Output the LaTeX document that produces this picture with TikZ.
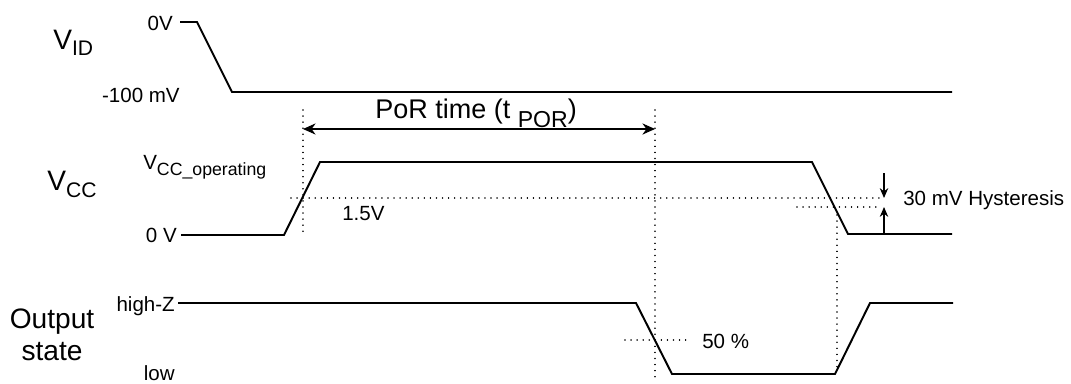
\documentclass[tikz,border=0pt]{standalone}
\usepackage{fontspec}
\setmainfont{Liberation Sans}
\usepackage{tikz}
\usetikzlibrary{arrows.meta}
\tikzstyle{signal} = [line width=1.4pt, line join=miter]
\tikzstyle{guide} = [line width=1.1pt, line cap=round, dash pattern=on 0.01pt off 4.3pt]
\tikzstyle{measure} = [line width=0.8pt, {Stealth[length=9pt,width=8pt]}-{Stealth[length=9pt,width=8pt]}]
\tikzstyle{hyst} = [line width=0.8pt, -{Stealth[length=7pt,width=6pt]}]
\tikzstyle{lbl} = [inner sep=0pt, font=\fontsize{14.6}{17}\selectfont]
\tikzstyle{biglbl} = [inner sep=0pt, font=\fontsize{20}{23}\selectfont]
\newcommand{\lowsub}[3]{\raisebox{-#1}{\fontsize{#2}{#2}\selectfont #3}}

\begin{document}
\begin{tikzpicture}[x=0.025cm, y=-0.025cm]
    \useasboundingbox (0,0) rectangle (1071,383);

    % signal names
    \node (vid) [biglbl, anchor=base west] at (53,49) {V\lowsub{4.3pt}{15}{ID}};
    \node (vcc) [biglbl, anchor=base west] at (47,190) {V\lowsub{5pt}{15}{CC}};
    \node (outst) [biglbl, align=center, anchor=center] at (52,335) {Output\\[-0.5pt]state};

    % level labels
    \node (l0v) [lbl, anchor=base east] at (173,30) {0V};
    \node (l100) [lbl, anchor=base east] at (180,102) {-100 mV};
    \node (lop) [lbl, anchor=base west] at (143,169) {V\lowsub{4.3pt}{12.6}{CC\_operating}};
    \node (lzero) [lbl, anchor=base east] at (177,242) {0 V};
    \node (lhz) [lbl, anchor=base east] at (175,311) {high-Z};
    \node (llow) [lbl, anchor=base east] at (175,380) {low};
    \node (l15) [lbl, anchor=base west] at (342,220) {1.5V};
    \node (l50) [lbl, anchor=base west] at (702,348) {50 \%};
    \node (lhys) [lbl, anchor=base west] at (903,205) {30 mV Hysteresis};
    \node (lpor) [inner sep=0pt, anchor=base west, font=\fontsize{19.2}{22}\selectfont] at (375,118) {PoR time (t \lowsub{7pt}{16.4}{POR})};

    % waveforms
    \draw [signal] (180,22) -- (197,22) -- (232,92) -- (952,92);
    \draw [signal] (181,235) -- (284,235) -- (320,162) -- (812,162) -- (848,234) -- (952,234);
    \draw [signal] (178,303) -- (636,303) -- (672,374) -- (835,374) -- (870,303) -- (953,303);

    % guides
    \coordinate (t1) at (303,110);
    \coordinate (t2) at (655,110);
    \draw [guide] (t1) -- (303,233);
    \draw [guide] (t2) -- (655,380);
    \draw [guide] (837,215) -- (837,372);
    \draw [guide] (291,198) -- (880,198);
    \draw [guide] (797,207) -- (880,207);
    \draw [guide] (625,340) -- (690,340);

    % arrows
    \coordinate (pa) at (303,129);
    \coordinate (pb) at (655,129);
    \draw [measure] (pa) -- (pb);
    \coordinate (hs) at (884,173);
    \coordinate (ht) at (884,198);
    \coordinate (hu) at (884,234);
    \coordinate (hv) at (884,207);
    \draw [hyst] (hs) -- (ht);
    \draw [hyst] (hu) -- (hv);
\end{tikzpicture}
\end{document}
